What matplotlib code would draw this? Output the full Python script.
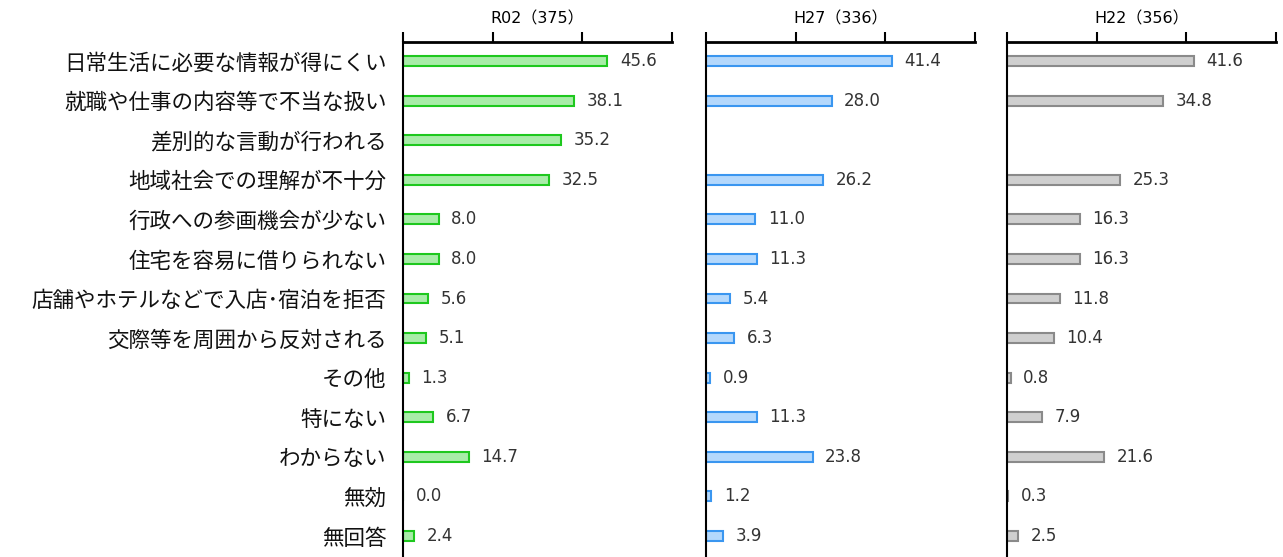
import matplotlib
matplotlib.use('Agg')
import matplotlib.pyplot as plt
import numpy as np

plt.rcParams['font.family'] = ['Noto Sans CJK JP', 'DejaVu Sans']

categories = ['日常生活に必要な情報が得にくい', '就職や仕事の内容等で不当な扱い', '差別的な言動が行われる',
              '地域社会での理解が不十分', '行政への参画機会が少ない', '住宅を容易に借りられない',
              '店舗やホテルなどで入店･宿泊を拒否', '交際等を周囲から反対される', 'その他',
              '特にない', 'わからない', '無効', '無回答']

titles = ['R02（375）', 'H27（336）', 'H22（356）']
r02 = [45.6, 38.1, 35.2, 32.5, 8.0, 8.0, 5.6, 5.1, 1.3, 6.7, 14.7, 0.0, 2.4]
h27 = [41.4, 28.0, None, 26.2, 11.0, 11.3, 5.4, 6.3, 0.9, 11.3, 23.8, 1.2, 3.9]
h22 = [41.6, 34.8, None, 25.3, 16.3, 16.3, 11.8, 10.4, 0.8, 7.9, 21.6, 0.3, 2.5]
series = [r02, h27, h22]

faces = ['#a8eca8', '#b4d8fc', '#cfcfcf']
edges = ['#1ec81e', '#3a96f0', '#8a8a8a']
lefts = [403, 706, 1007]

W, H = 1283, 557
fig = plt.figure(figsize=(W / 100, H / 100), dpi=100)

for k in range(3):
    ax = fig.add_axes([lefts[k] / W, 0, 269 / W, 1 - 42 / H])
    vals = series[k]
    y = np.arange(len(categories))
    for i, v in enumerate(vals):
        if v is None:
            continue
        ax.barh(i, v, height=0.25, left=0, color=faces[k], edgecolor=edges[k], linewidth=1.5)
        ax.annotate(f'{v:.1f}', (v, i), xytext=(9, 0), textcoords='offset points',
                    va='center', ha='left', fontsize=12, color='#333333', family='DejaVu Sans')
    ax.set_xlim(0, 60)
    ax.set_ylim(12.53, -0.48)
    ax.set_xticks([0, 20, 40, 60])
    ax.xaxis.tick_top()
    ax.tick_params(axis='x', which='both', length=7, width=1.5, labeltop=False, labelbottom=False,
                   direction='out', color='black')
    for s in ['right', 'bottom']:
        ax.spines[s].set_visible(False)
    ax.spines['top'].set_linewidth(2)
    ax.spines['left'].set_linewidth(1.5)
    ax.set_title(titles[k], fontsize=11.5, pad=13, family=['DejaVu Sans', 'Noto Sans CJK JP'])
    if k == 0:
        ax.set_yticks(y)
        ax.set_yticklabels(categories, fontsize=15.5, color='#111111')
        ax.tick_params(axis='y', length=0, pad=12)
    else:
        ax.set_yticks([])

fig.savefig('out.png', dpi=100)
